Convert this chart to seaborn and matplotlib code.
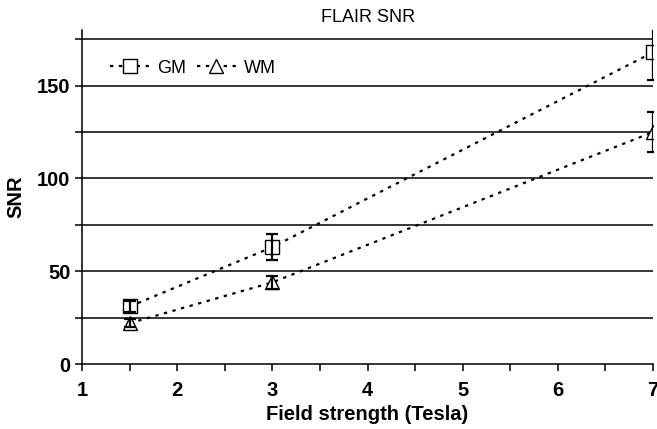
import matplotlib
matplotlib.use("Agg")
import matplotlib.pyplot as plt
import seaborn as sns
import pandas as pd

field = [1.5, 3, 7]
gm_snr = [31, 63, 168]
gm_err = [3, 7, 15]
wm_snr = [22, 44, 125]
wm_err = [2, 3.5, 11]
groups = ["GM", "WM"]

df = pd.DataFrame({
    "field": field * 2,
    "snr": gm_snr + wm_snr,
    "err": gm_err + wm_err,
    "tissue": ["GM"] * 3 + ["WM"] * 3,
})

sns.set_style("white")
plt.rcParams["font.family"] = ["Liberation Sans", "DejaVu Sans"]
plt.rcParams["text.color"] = "black"
plt.rcParams["axes.labelcolor"] = "black"

fig = plt.figure(figsize=(6.57, 4.29), dpi=100)
ax = fig.add_axes([0.125, 0.1515, 0.869, 0.7785])

for y in range(25, 180, 25):
    ax.axhline(y, color="black", lw=1.1, zorder=1)

markers = {"GM": "s", "WM": "^"}
sns.lineplot(data=df, x="field", y="snr", hue="tissue", style="tissue",
             markers=markers, dashes={"GM": (1.5, 2.5), "WM": (1.5, 2.5)},
             palette={"GM": "black", "WM": "black"}, lw=1.6,
             markersize=10, markerfacecolor="white", markeredgecolor="black",
             markeredgewidth=1.0, ax=ax, zorder=3)

for t in groups:
    sub = df[df.tissue == t]
    ax.errorbar(sub.field, sub.snr, yerr=sub.err, fmt="none", ecolor="black",
                elinewidth=1.6, capsize=4, capthick=1.6, zorder=4)

ax.set_xlim(1, 7)
ax.set_ylim(0, 180)
ax.set_xticks([1, 2, 3, 4, 5, 6, 7])
ax.set_xticks([1.5, 2.5, 3.5, 4.5, 5.5, 6.5], minor=True)
ax.set_yticks([0, 50, 100, 150])
ax.set_yticks([25, 75, 125, 175], minor=True)
ax.tick_params(axis="both", which="both", direction="out", length=5, width=1.1,
               colors="black", labelsize=14.5)
ax.tick_params(axis="x", which="major", pad=7)
ax.tick_params(axis="y", which="both", left=True)
ax.tick_params(axis="x", which="both", bottom=True)
for lab in ax.get_xticklabels() + ax.get_yticklabels():
    lab.set_fontweight("bold")

for s in ["top", "right"]:
    ax.spines[s].set_visible(False)
for s in ["left", "bottom"]:
    ax.spines[s].set_color("black")
    ax.spines[s].set_linewidth(1.1)

ax.set_xlabel("Field strength (Tesla)", fontsize=14.5, fontweight="bold", labelpad=4)
ax.set_ylabel("SNR", fontsize=14.5, fontweight="bold", labelpad=8)
ax.set_title("FLAIR SNR", fontsize=13, pad=6)

handles, labels = ax.get_legend_handles_labels()
ax.legend(handles, labels, loc="upper left", ncol=2, frameon=False,
          fontsize=13, bbox_to_anchor=(0.02, 0.96), handlelength=2.2,
          columnspacing=0.6, handletextpad=0.4)

fig.savefig("out.png", dpi=100)
